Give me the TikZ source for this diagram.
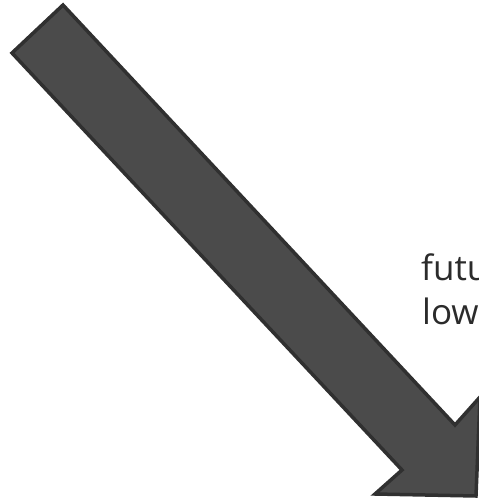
\documentclass[tikz,border=0pt]{standalone}
\usepackage{fontspec}
\setmainfont{Open Sans}
\definecolor{arrowfill}{HTML}{4B4B4B}
\definecolor{arrowline}{HTML}{303030}
\definecolor{txt}{HTML}{2B2B2B}
\begin{document}
\begin{tikzpicture}[x=1pt,y=-1pt,
  bigarrow/.style={fill=arrowfill,draw=arrowline,line width=3.5pt,line join=miter},
  lbl/.style={text=txt,font=\fontsize{35}{44}\selectfont,anchor=base west,inner sep=0pt}]
\useasboundingbox (0,0) rectangle (479,499);
\clip (0,0) rectangle (479,499);
\draw[bigarrow] (63,5) -- (12,53) -- (402,470) -- (375,494) -- (476,496) -- (480,397) -- (455,425) -- cycle;
\node[lbl] (t1) at (421,280) {futu};
\node[lbl] (t2) at (422,324) {low};
\end{tikzpicture}
\end{document}
